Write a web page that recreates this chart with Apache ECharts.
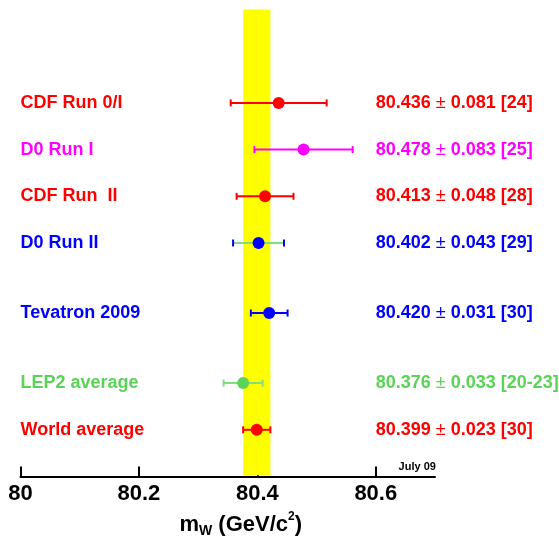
<!DOCTYPE html>
<html>
<head>
<meta charset="utf-8">
<script src="https://cdn.jsdelivr.net/npm/echarts@6/dist/echarts.min.js"></script>
<style>
html,body{margin:0;padding:0;background:#fff;}
#chart{width:559px;height:537px;}
</style>
</head>
<body>
<div id="chart"></div>
<script>
// ---- data ----
const names = ['CDF Run 0/I', 'D0 Run I', 'CDF Run  II', 'D0 Run II', 'Tevatron 2009', 'LEP2 average', 'World average'];
const values = [80.436, 80.478, 80.413, 80.402, 80.420, 80.376, 80.399];
const errors = [0.081, 0.083, 0.048, 0.043, 0.031, 0.033, 0.023];
const refs = ['[24]', '[25]', '[28]', '[29]', '[30]', '[20-23]', '[30]'];
const rowPos = [7, 6, 5, 4, 2.5, 1, 0];
const xTicks = [80, 80.2, 80.4, 80.6];
const worldAvg = 80.399;
const worldErr = 0.023;

// ---- styles ----
const RED = '#ff0000', MAG = '#ff00ff', BLUE = '#0000ff', GREEN = '#59d454';
const textColors = [RED, MAG, RED, BLUE, BLUE, GREEN, RED];
const dotColors = [RED, MAG, RED, BLUE, BLUE, GREEN, RED];
const lineColors = [RED, MAG, RED, '#7fdf7f', BLUE, '#7fdf7f', RED];
const capColors = [RED, MAG, RED, BLUE, BLUE, '#7fdf7f', RED];
const FONT = '"Liberation Sans", Arial, Helvetica, sans-serif';

const chart = echarts.init(document.getElementById('chart'), null, {renderer: 'canvas'});

const option = {
  animation: false,
  backgroundColor: '#fff',
  grid: {left: 20.5, right: 124, top: 9.5, bottom: 60.5, containLabel: false, outerBoundsMode: 'none'},
  xAxis: {
    type: 'value',
    min: 80, max: 80.7,
    interval: 0.2,
    splitLine: {show: false},
    axisLine: {show: true, onZero: false, lineStyle: {color: '#000', width: 2}},
    axisTick: {show: true, inside: true, length: 10, lineStyle: {color: '#000', width: 2}, customValues: xTicks},
    axisLabel: {
      customValues: xTicks,
      formatter: v => String(v),
      color: '#000', fontSize: 22, fontWeight: 'bold', fontFamily: FONT, margin: 6
    },
    name: '{m|m}{sub|W}{n| (GeV/c}{sup|2}{n|)}',
    nameLocation: 'middle',
    nameGap: 34,
    nameTextStyle: {
      padding: [0, 0, 0, 26],
      rich: {
        m: {fontSize: 22, fontWeight: 'bold', fontFamily: FONT, color: '#000', lineHeight: 28, verticalAlign: 'middle'},
        n: {fontSize: 22, fontWeight: 'bold', fontFamily: FONT, color: '#000', lineHeight: 28, verticalAlign: 'middle'},
        sub: {fontSize: 14, fontWeight: 'bold', fontFamily: FONT, color: '#000', verticalAlign: 'bottom', lineHeight: 28},
        sup: {fontSize: 12, fontWeight: 'bold', fontFamily: FONT, color: '#000', verticalAlign: 'top', lineHeight: 28}
      }
    }
  },
  yAxis: {type: 'value', min: -1, max: 9, show: false},
  series: [
    {
      type: 'custom',
      name: 'band',
      z: 1,
      data: [],
      renderItem: () => null,
      markArea: {
        silent: true,
        itemStyle: {color: '#ffff00', opacity: 1},
        data: [[{xAxis: worldAvg - worldErr, yAxis: 9}, {xAxis: worldAvg + worldErr, yAxis: -0.975}]]
      }
    },
    {
      type: 'custom',
      name: 'errors',
      z: 3,
      data: values.map((v, i) => [v - errors[i], v + errors[i], rowPos[i]]),
      renderItem: (params, api) => {
        const i = params.dataIndex;
        const y = api.value(2);
        const lo = api.coord([api.value(0), y]);
        const hi = api.coord([api.value(1), y]);
        const h = 3.5;
        return {
          type: 'group',
          children: [
            {type: 'line', shape: {x1: lo[0], y1: lo[1], x2: hi[0], y2: hi[1]}, style: {stroke: lineColors[i], lineWidth: 2}},
            {type: 'line', shape: {x1: lo[0], y1: lo[1] - h, x2: lo[0], y2: lo[1] + h}, style: {stroke: capColors[i], lineWidth: 2}},
            {type: 'line', shape: {x1: hi[0], y1: hi[1] - h, x2: hi[0], y2: hi[1] + h}, style: {stroke: capColors[i], lineWidth: 2}}
          ]
        };
      }
    },
    {
      type: 'scatter',
      name: 'points',
      z: 4,
      symbol: 'circle',
      symbolSize: 12,
      data: values.map((v, i) => ({value: [v, rowPos[i]], itemStyle: {color: dotColors[i], opacity: 1}}))
    },
    {
      type: 'custom',
      name: 'leftLabels',
      z: 5,
      data: names.map((n, i) => [80, rowPos[i]]),
      renderItem: (params, api) => {
        const i = params.dataIndex;
        const p = api.coord([api.value(0), api.value(1)]);
        return {
          type: 'text', x: p[0], y: p[1],
          style: {text: names[i], fill: textColors[i], fontSize: 18, fontWeight: 'bold', fontFamily: FONT, align: 'left', verticalAlign: 'middle'}
        };
      }
    },
    {
      type: 'custom',
      name: 'rightLabels',
      z: 5,
      data: values.map((v, i) => [80.6, rowPos[i]]),
      renderItem: (params, api) => {
        const i = params.dataIndex;
        const p = api.coord([api.value(0), api.value(1)]);
        const c = textColors[i];
        return {
          type: 'text', x: p[0], y: p[1],
          style: {
            text: '{a|' + values[i].toFixed(3) + ' }{pm|±}{a| ' + errors[i].toFixed(3) + ' ' + refs[i] + '}',
            fill: c, fontSize: 18, fontFamily: FONT, align: 'left', verticalAlign: 'middle',
            rich: {
              a: {fill: c, fontSize: 18, fontWeight: 'bold', fontFamily: FONT},
              pm: {fill: c, fontSize: 18, fontWeight: 'normal', fontFamily: FONT}
            }
          }
        };
      }
    }
  ],
  graphic: [
    {type: 'text', left: 398.6, top: 461, style: {text: 'July 09', fill: '#000', fontSize: 11, fontWeight: 'bold', fontFamily: FONT}}
  ]
};
chart.setOption(option);
</script>
</body>
</html>
